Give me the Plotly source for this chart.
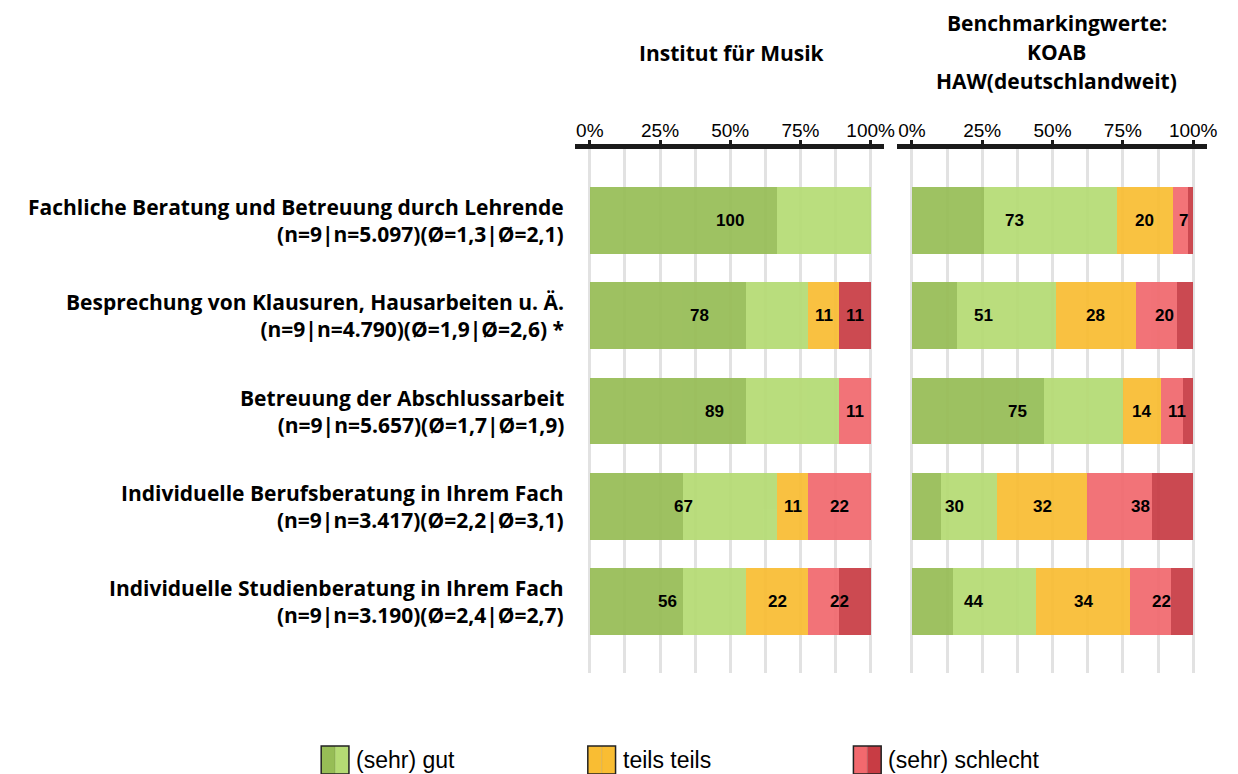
import plotly.graph_objects as go

W, H = 1238, 774
DY = 7  # vertical page offset compensation (px)

categories = [
    "Fachliche Beratung und Betreuung durch Lehrende<br>(n=9|n=5.097)(Ø=1,3|Ø=2,1)",
    "Besprechung von Klausuren, Hausarbeiten u. Ä.<br>(n=9|n=4.790)(Ø=1,9|Ø=2,6) *",
    "Betreuung der Abschlussarbeit<br>(n=9|n=5.657)(Ø=1,7|Ø=1,9)",
    "Individuelle Berufsberatung in Ihrem Fach<br>(n=9|n=3.417)(Ø=2,2|Ø=3,1)",
    "Individuelle Studienberatung in Ihrem Fach<br>(n=9|n=3.190)(Ø=2,4|Ø=2,7)",
]

# Institut für Musik (percent)
inst_sehr_gut = [66.67, 55.56, 55.56, 33.33, 33.33]
inst_gut = [33.33, 22.22, 33.33, 33.33, 22.22]
inst_teils = [0.0, 11.11, 0.0, 11.11, 22.22]
inst_schlecht = [0.0, 0.0, 11.11, 22.22, 11.11]
inst_sehr_schlecht = [0.0, 11.11, 0.0, 0.0, 11.11]

# Benchmark KOAB HAW (percent)
bm_sehr_gut = [25.6, 16.2, 46.8, 10.3, 14.5]
bm_gut = [47.2, 35.0, 28.1, 20.0, 29.6]
bm_teils = [20.1, 28.4, 13.8, 32.1, 33.6]
bm_schlecht = [5.4, 14.6, 7.8, 22.8, 14.3]
bm_sehr_schlecht = [1.7, 5.8, 3.5, 14.8, 8.0]

tick_vals = [0, 25, 50, 75, 100]
tick_text = ["0%", "25%", "50%", "75%", "100%"]

title_left = "Institut für Musik"
title_right_lines = ["Benchmarkingwerte:", "KOAB", "HAW(deutschlandweit)"]
legend_labels = ["(sehr) gut", "teils teils", "(sehr) schlecht"]

C_DG = "#97BD56"
C_LG = "#B5DB74"
C_OR = "#F9BD33"
C_LR = "#F2696E"
C_DR = "#C83C44"

LABEL_FONT = "'Open Sans', 'Noto Sans', sans-serif"
ARIAL = "'Liberation Sans', Arial, sans-serif"


def px(x):
    return x / W


def py(y):
    return 1 - (y - DY) / H


ypos = list(range(len(categories)))

fig = go.Figure()

panels = [
    ("x", [inst_sehr_gut, inst_gut, inst_teils, inst_schlecht, inst_sehr_schlecht]),
    ("x2", [bm_sehr_gut, bm_gut, bm_teils, bm_schlecht, bm_sehr_schlecht]),
]
colors = [C_DG, C_LG, C_OR, C_LR, C_DR]

for xa, series in panels:
    for vals, col in zip(series, colors):
        fig.add_trace(go.Bar(
            x=vals, y=ypos, orientation="h", xaxis=xa, yaxis="y",
            marker=dict(color=col, line=dict(width=0)), opacity=0.93,
            width=0.7, showlegend=False, hoverinfo="skip",
        ))
    groups = [
        [a + b for a, b in zip(series[0], series[1])],
        series[2],
        [a + b for a, b in zip(series[3], series[4])],
    ]
    for i in ypos:
        start = 0.0
        for g in groups:
            v = g[i]
            if v > 0.5:
                fig.add_annotation(
                    x=start + v / 2, y=i, xref=xa, yref="y",
                    text=f"<b>{round(v)}</b>", showarrow=False,
                    font=dict(family=ARIAL, size=17, color="black"),
                )
            start += v

# category labels
for i, c in enumerate(categories):
    fig.add_annotation(
        x=px(563), y=i, xref="paper", yref="y", xanchor="right", yanchor="middle",
        text=f"<b>{c}</b>", align="right", showarrow=False,
        font=dict(family=LABEL_FONT, size=21, color="black"),
    )

# panel titles
fig.add_annotation(x=px(730), y=py(52), xref="paper", yref="paper",
                   text=f"<b>{title_left}</b>", showarrow=False,
                   xanchor="center", yanchor="middle",
                   font=dict(family=LABEL_FONT, size=21, color="black"))
for line, yy in zip(title_right_lines, [22, 51, 80]):
    fig.add_annotation(x=px(1058), y=py(yy), xref="paper", yref="paper",
                       text=f"<b>{line}</b>", showarrow=False,
                       xanchor="center", yanchor="middle",
                       font=dict(family=LABEL_FONT, size=21, color="black"))

# custom legend
leg = [
    (316, C_DG, C_LG, legend_labels[0]),
    (585, C_OR, C_OR, legend_labels[1]),
    (853, C_LR, C_DR, legend_labels[2]),
]
y0, y1 = py(773), py(745)
for x0, cl, cr, lab in leg:
    xm = x0 + 14
    fig.add_shape(type="rect", xref="paper", yref="paper",
                  x0=px(x0), x1=px(xm), y0=y0, y1=y1,
                  fillcolor=cl, line=dict(width=0))
    fig.add_shape(type="rect", xref="paper", yref="paper",
                  x0=px(xm), x1=px(x0 + 28), y0=y0, y1=y1,
                  fillcolor=cr, line=dict(width=0))
    fig.add_shape(type="line", xref="paper", yref="paper",
                  x0=px(xm), x1=px(xm), y0=y0, y1=y1,
                  line=dict(width=1, color="rgba(0,0,0,0.12)"))
    fig.add_shape(type="rect", xref="paper", yref="paper",
                  x0=px(x0), x1=px(x0 + 28), y0=y0, y1=y1,
                  fillcolor="rgba(0,0,0,0)", line=dict(width=1.5, color="#222222"))
    fig.add_annotation(x=px(x0 + 33), y=py(759), xref="paper", yref="paper",
                       text=lab, showarrow=False, xanchor="left", yanchor="middle",
                       font=dict(family=ARIAL, size=23, color="black"))

xaxis_common = dict(
    side="top", anchor="y", tickmode="array", tickvals=tick_vals, ticktext=tick_text,
    showgrid=True, gridcolor="#E2E2E2", gridwidth=2.5,
    minor=dict(dtick=12.5, tick0=0, showgrid=True, gridcolor="#E2E2E2", gridwidth=2.5),
    showline=True, linecolor="#1A1A1A", linewidth=5,
    ticks="outside", ticklen=4, tickwidth=2.5, tickcolor="#1A1A1A",
    ticklabelstandoff=-5,
    tickfont=dict(family=ARIAL, size=19, color="black"),
    zeroline=False, fixedrange=True,
)

fig.update_layout(
    width=W, height=H, autosize=False,
    margin=dict(l=0, r=0, t=0, b=0),
    paper_bgcolor="white", plot_bgcolor="white",
    barmode="stack", bargap=0.3,
    showlegend=False,
    xaxis=dict(domain=[px(572), px(884)], range=[-5.3, 104.8], **xaxis_common),
    xaxis2=dict(domain=[px(897), px(1210)], range=[-5.3, 105.0], **xaxis_common),
    yaxis=dict(domain=[py(672), py(148)], range=[4.75, -0.75],
               showticklabels=False, showgrid=False, zeroline=False, showline=False,
               fixedrange=True),
)

fig.write_html("out.html")
